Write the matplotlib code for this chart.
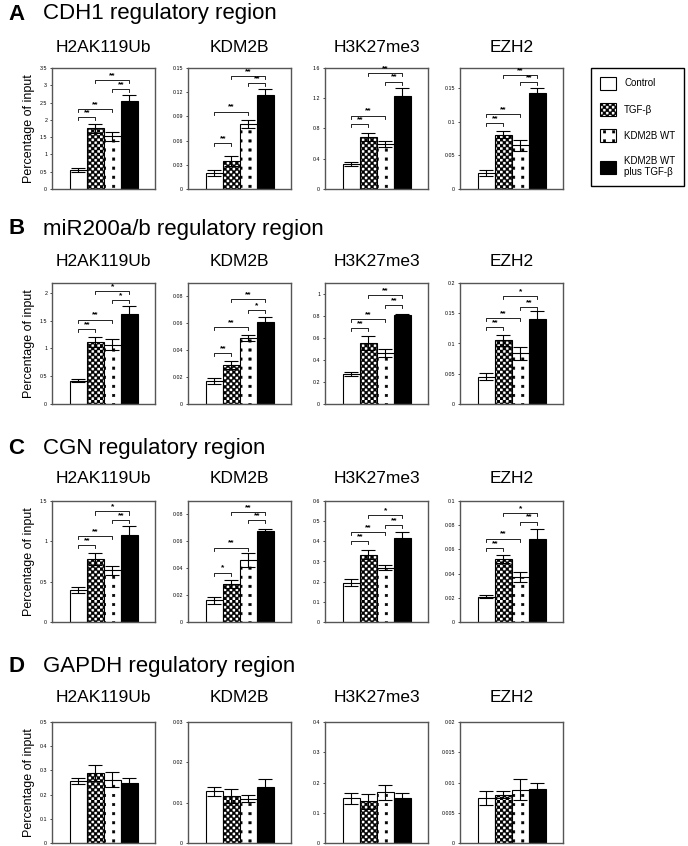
import warnings
import matplotlib
matplotlib.use('Agg')
import matplotlib.pyplot as plt
import matplotlib.hatch as mhatch
from matplotlib.path import Path
from matplotlib.patches import Patch

warnings.filterwarnings('ignore')
plt.rcParams['font.family'] = ['Liberation Sans', 'DejaVu Sans']
plt.rcParams['hatch.linewidth'] = 0.3

# ---- dados ----
conditions = ['Control', 'TGF-β', 'KDM2B WT', 'KDM2B WT\nplus TGF-β']
marks = ['H2AK119Ub', 'KDM2B', 'H3K27me3', 'EZH2']
panel_letters = ['A', 'B', 'C', 'D']
region_titles = ['CDH1 regulatory region', 'miR200a/b regulatory region',
                 'CGN regulatory region', 'GAPDH regulatory region']

# A - CDH1
cdh1_mean = [[0.55, 1.75, 1.52, 2.55], [0.020, 0.035, 0.081, 0.116],
             [0.33, 0.69, 0.59, 1.23], [0.024, 0.081, 0.065, 0.143]]
cdh1_err = [[0.05, 0.12, 0.13, 0.17], [0.004, 0.006, 0.005, 0.008],
            [0.03, 0.05, 0.04, 0.10], [0.004, 0.005, 0.008, 0.007]]
cdh1_ymax = [3.5, 0.15, 1.6, 0.18]
cdh1_ticks = [[0, 0.5, 1, 1.5, 2, 2.5, 3, 3.5], [0, 0.03, 0.06, 0.09, 0.12, 0.15],
              [0, 0.4, 0.8, 1.2, 1.6], [0, 0.05, 0.1, 0.15]]
cdh1_sig = [[(0, 1, 2.08, '**'), (0, 2, 2.32, '**'), (2, 3, 2.90, '**'), (1, 3, 3.14, '**')],
            [(0, 1, 0.0567, '**'), (0, 2, 0.096, '**'), (2, 3, 0.131, '**'), (1, 3, 0.140, '**')],
            [(0, 1, 0.86, '**'), (0, 2, 0.97, '**'), (2, 3, 1.42, '**'), (1, 3, 1.53, '**')],
            [(0, 1, 0.0975, '**'), (0, 2, 0.112, '**'), (2, 3, 0.1585, '**'), (1, 3, 0.170, '**')]]

# B - miR200a/b
mir_mean = [[0.42, 1.12, 1.07, 1.62], [0.017, 0.029, 0.049, 0.061],
            [0.27, 0.555, 0.465, 0.81], [0.045, 0.105, 0.084, 0.140]]
mir_err = [[0.03, 0.09, 0.10, 0.14], [0.002, 0.003, 0.002, 0.004],
           [0.02, 0.06, 0.035, 0.012], [0.006, 0.009, 0.011, 0.013]]
mir_ymax = [2.18, 0.09, 1.1, 0.2]
mir_ticks = [[0, 0.5, 1, 1.5, 2], [0, 0.02, 0.04, 0.06, 0.08],
             [0, 0.2, 0.4, 0.6, 0.8, 1], [0, 0.05, 0.1, 0.15, 0.2]]
mir_sig = [[(0, 1, 1.345, '**'), (0, 2, 1.52, '**'), (2, 3, 1.87, '*'), (1, 3, 2.04, '*')],
           [(0, 1, 0.0378, '**'), (0, 2, 0.0573, '**'), (2, 3, 0.0696, '*'), (1, 3, 0.0778, '**')],
           [(0, 1, 0.688, '**'), (0, 2, 0.77, '**'), (2, 3, 0.90, '**'), (1, 3, 0.988, '**')],
           [(0, 1, 0.127, '**'), (0, 2, 0.142, '**'), (2, 3, 0.160, '**'), (1, 3, 0.178, '*')]]

# C - CGN
cgn_mean = [[0.40, 0.78, 0.64, 1.08], [0.016, 0.028, 0.046, 0.068],
            [0.195, 0.333, 0.27, 0.415], [0.021, 0.052, 0.037, 0.069]]
cgn_err = [[0.04, 0.07, 0.06, 0.11], [0.0025, 0.003, 0.005, 0.0015],
           [0.018, 0.022, 0.012, 0.03], [0.0015, 0.003, 0.004, 0.008]]
cgn_ymax = [1.5, 0.09, 0.6, 0.1]
cgn_ticks = [[0, 0.5, 1, 1.5], [0, 0.02, 0.04, 0.06, 0.08],
             [0, 0.1, 0.2, 0.3, 0.4, 0.5, 0.6], [0, 0.02, 0.04, 0.06, 0.08, 0.1]]
cgn_sig = [[(0, 1, 0.95, '**'), (0, 2, 1.065, '**'), (2, 3, 1.26, '**'), (1, 3, 1.37, '*')],
           [(0, 1, 0.0368, '*'), (0, 2, 0.0553, '**'), (2, 3, 0.0756, '**'), (1, 3, 0.0817, '**')],
           [(0, 1, 0.40, '**'), (0, 2, 0.445, '**'), (2, 3, 0.48, '**'), (1, 3, 0.53, '*')],
           [(0, 1, 0.061, '**'), (0, 2, 0.069, '**'), (2, 3, 0.083, '**'), (1, 3, 0.090, '*')]]

# D - GAPDH
gapdh_mean = [[0.255, 0.29, 0.262, 0.248], [0.0128, 0.0116, 0.011, 0.0138],
              [0.148, 0.138, 0.168, 0.150], [0.0074, 0.0080, 0.0088, 0.0089]]
gapdh_err = [[0.012, 0.032, 0.03, 0.02], [0.0012, 0.0018, 0.0009, 0.0021],
             [0.018, 0.024, 0.025, 0.016], [0.0012, 0.0006, 0.0017, 0.0010]]
gapdh_ymax = [0.5, 0.03, 0.4, 0.02]
gapdh_ticks = [[0, 0.1, 0.2, 0.3, 0.4, 0.5], [0, 0.01, 0.02, 0.03],
               [0, 0.1, 0.2, 0.3, 0.4], [0, 0.005, 0.01, 0.015, 0.02]]
gapdh_sig = [[], [], [], []]

all_mean = [cdh1_mean, mir_mean, cgn_mean, gapdh_mean]
all_err = [cdh1_err, mir_err, cgn_err, gapdh_err]
all_ymax = [cdh1_ymax, mir_ymax, cgn_ymax, gapdh_ymax]
all_ticks = [cdh1_ticks, mir_ticks, cgn_ticks, gapdh_ticks]
all_sig = [cdh1_sig, mir_sig, cgn_sig, gapdh_sig]


# hachura propria: '#' = xadrez fino, ':' = pontinhos quadrados esparsos
class SquareHatch(mhatch.HatchPatternBase):
    def __init__(self, hatch, density):
        self.squares = []
        if '#' in hatch:
            n = 34
            s = 1.0 / n
            self.squares = [(i * s, j * s, s) for i in range(n) for j in range(n)
                            if (i + j) % 2 == 0]
        elif ':' in hatch:
            n = 11
            s = 1.0 / n
            d = 0.025
            self.squares = [((i + 0.5) * s - d / 2, (j + 0.5) * s - d / 2, d)
                            for i in range(n) for j in range(n)]
        self.num_vertices = 5 * len(self.squares)

    def set_vertices_and_codes(self, vertices, codes):
        for k, (x0, y0, s) in enumerate(self.squares):
            vertices[5 * k:5 * k + 5] = [(x0, y0), (x0 + s, y0), (x0 + s, y0 + s),
                                         (x0, y0 + s), (x0, y0)]
            codes[5 * k:5 * k + 5] = [Path.MOVETO, Path.LINETO, Path.LINETO,
                                      Path.LINETO, Path.CLOSEPOLY]


mhatch._hatch_types.append(SquareHatch)

# estilos das barras
faces = ['white', 'white', 'white', 'black']
hatches = [None, '#', ':', None]

# ---- layout (pixels) ----
W, H = 688, 846
col_left = [52, 188, 325, 460]
ax_w = 103
row_top = [68, 283, 501, 722]
ax_h = 121
letter_y = [14, 229, 448, 666]
sub_y = [48, 262, 478, 698]

fig = plt.figure(figsize=(W / 100, H / 100), dpi=100)


def drawPanel(ax, mean, err, ymax, ticks, sig):
    x = range(len(mean))
    for i in x:
        ax.bar(i, mean[i], width=1.0, color=faces[i], edgecolor='black',
               hatch=hatches[i], linewidth=0.8, zorder=2)
    ax.errorbar(list(x), mean, yerr=err, fmt='none', ecolor='black',
                elinewidth=0.8, capsize=4.7, capthick=0.8, zorder=3)
    tick_d = 0.025 * ymax
    for i0, i1, y, lab in sig:
        ax.plot([i0, i0, i1, i1], [y - tick_d, y, y, y - tick_d],
                color='black', linewidth=0.6, zorder=3)
        ax.text((i0 + i1) / 2, y + 0.008 * ymax, lab, ha='center', va='bottom',
                fontsize=6, fontweight='bold')
    ax.set_xlim(-1.55, 4.5)
    ax.set_ylim(0, ymax)
    ax.set_xticks([])
    ax.set_yticks(ticks)
    ax.set_yticklabels(['{:g}'.format(t) for t in ticks])
    ax.tick_params(axis='y', labelsize=3.8, length=1.5, width=0.5, pad=2)
    for s in ax.spines.values():
        s.set_color('#555555')
        s.set_linewidth(1.0)


for r in range(4):
    fig.text(8 / W, 1 - letter_y[r] / H, panel_letters[r], fontsize=16,
             fontweight='bold', va='center', ha='left')
    fig.text(43 / W, 1 - letter_y[r] / H, region_titles[r], fontsize=16,
             va='center', ha='left')
    for c in range(4):
        ax = fig.add_axes([col_left[c] / W, 1 - (row_top[r] + ax_h) / H,
                           ax_w / W, ax_h / H])
        drawPanel(ax, all_mean[r][c], all_err[r][c], all_ymax[r][c],
                  all_ticks[r][c], all_sig[r][c])
        fig.text((col_left[c] + ax_w / 2) / W, 1 - sub_y[r] / H, marks[c],
                 fontsize=12.5, ha='center', va='center')
        if c == 0:
            fig.text(29 / W, 1 - (row_top[r] + ax_h / 2) / H, 'Percentage of input',
                     fontsize=9, rotation=90, ha='center', va='center')

# legenda
handles = [Patch(facecolor=faces[i], edgecolor='black', hatch=hatches[i], linewidth=0.8)
           for i in range(4)]
leg = fig.legend(handles, conditions, loc='upper left',
                 bbox_to_anchor=(591 / W, 1 - 68 / H), fancybox=False,
                 edgecolor='black', framealpha=1, fontsize=7,
                 handlelength=1.7, handleheight=1.7, labelspacing=1.35,
                 borderpad=0.9, handletextpad=0.8, borderaxespad=0)
leg.get_frame().set_linewidth(1.0)

fig.savefig('out.png', dpi=100)
